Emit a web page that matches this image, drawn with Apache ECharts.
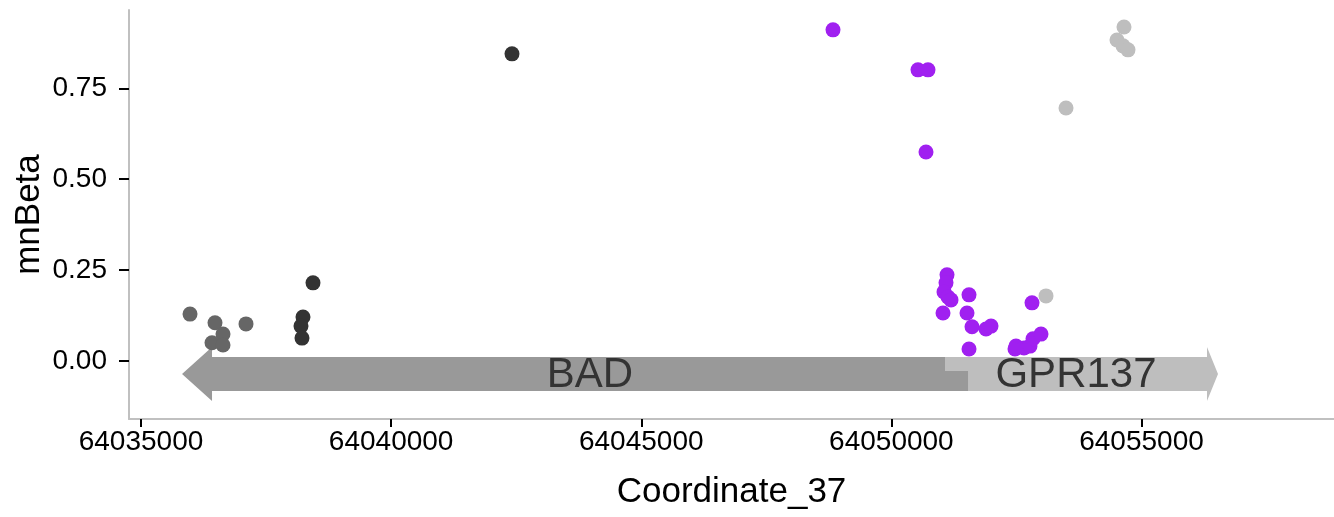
<!DOCTYPE html>
<html>
<head>
<meta charset="utf-8">
<script src="https://cdn.jsdelivr.net/npm/echarts@6/dist/echarts.min.js"></script>
<style>
html,body{margin:0;padding:0;background:#fff;}
#chart{width:1334px;height:517px;}
</style>
</head>
<body>
<div id="chart"></div>
<script>
// ---- data ----
const xTicks = [64035000, 64040000, 64045000, 64050000, 64055000];
const yTicks = [0, 0.25, 0.5, 0.75];

const group1X = [64035980, 64036479, 64037099, 64036639, 64036419, 64036639];
const group1Y = [0.129, 0.105, 0.102, 0.074, 0.050, 0.044];

const group2X = [64038438, 64038238, 64038198, 64038218, 64042416];
const group2Y = [0.215, 0.121, 0.096, 0.063, 0.845];

const purpleX = [64048833, 64050532, 64050732, 64050692, 64051112, 64051092, 64051052, 64051132, 64051192,
  64051552, 64051032, 64051512, 64051612, 64051892, 64051992, 64051552, 64052811, 64052471, 64052491,
  64052651, 64052771, 64052831, 64052991];
const purpleY = [0.911, 0.801, 0.801, 0.575, 0.237, 0.215, 0.190, 0.176, 0.168,
  0.182, 0.132, 0.132, 0.094, 0.088, 0.096, 0.033, 0.160, 0.033, 0.041,
  0.036, 0.041, 0.061, 0.074];

const lightX = [64054650, 64054510, 64054630, 64054730, 64053491, 64053091];
const lightY = [0.919, 0.883, 0.867, 0.856, 0.696, 0.179];

// genes: drawn from 'from' (transcription start) to 'to' (arrow tip)
const geneNames = ['GPR137', 'BAD'];
const geneFrom = [64051072, 64051532];
const geneTo = [64056529, 64035820];
const geneY = -0.036;

// ---- styles ----
const geneColors = {GPR137: '#bebebe', BAD: '#999999'};
const headLen = {GPR137: 11, BAD: 30};
const bodyHalf = 17, headHalf = 27, splitOff = -3;

function zip(xs, ys) { return xs.map((x, i) => [x, ys[i]]); }

const chart = echarts.init(document.getElementById('chart'), null, {renderer: 'canvas'});
const font = 'Liberation Sans, Arial, Helvetica, sans-serif';

const geneData = geneNames.map((n, i) => [geneFrom[i], geneTo[i], geneY, i]);

function renderGene(params, api) {
  const i = api.value(3);
  const name = geneNames[i];
  const p0 = api.coord([api.value(0), api.value(2)]);
  const p1 = api.coord([api.value(1), api.value(2)]);
  const cy = p0[1];
  const x0 = p0[0], xt = p1[0];
  const dir = xt > x0 ? 1 : -1;
  const hl = headLen[name];
  const xb = xt - dir * hl;
  let pts;
  if (name === 'BAD') {
    // top half stops where GPR137 begins
    const xo = api.coord([geneFrom[0], api.value(2)])[0];
    pts = [[xt, cy], [xb, cy - headHalf], [xb, cy - bodyHalf], [xo, cy - bodyHalf], [xo, cy + splitOff],
      [x0, cy + splitOff], [x0, cy + bodyHalf], [xb, cy + bodyHalf], [xb, cy + headHalf]];
  } else {
    pts = [[x0, cy - bodyHalf], [xb, cy - bodyHalf], [xb, cy - headHalf], [xt, cy], [xb, cy + headHalf],
      [xb, cy + bodyHalf], [x0, cy + bodyHalf]];
  }
  const cx = (x0 + xb) / 2;
  return {
    type: 'group',
    children: [
      {type: 'polygon', shape: {points: pts}, style: {fill: geneColors[name]}},
      {type: 'text', x: cx, y: cy + 1, style: {text: name, fill: '#333333', font: '42px ' + font,
        align: 'center', verticalAlign: 'middle'}}
    ]
  };
}

const option = {
  animation: false,
  backgroundColor: '#ffffff',
  grid: {left: 129, top: 10, right: 0, bottom: 98, containLabel: false},
  xAxis: {
    type: 'value', min: 64034760, max: 64058848,
    name: 'Coordinate_37', nameLocation: 'middle', nameGap: 56, nameMoveOverlap: false,
    nameTextStyle: {fontFamily: font, fontSize: 35, color: '#000'},
    axisLine: {show: true, onZero: false, lineStyle: {color: '#c0c0c0', width: 2}},
    axisTick: {show: true, customValues: xTicks, length: 8, lineStyle: {color: '#000', width: 2}},
    axisLabel: {customValues: xTicks, fontFamily: font, fontSize: 28, color: '#000', margin: 9,
      formatter: v => String(v)},
    splitLine: {show: false}
  },
  yAxis: {
    type: 'value', min: -0.1596, max: 0.9656,
    name: 'mnBeta', nameLocation: 'middle', nameGap: 82, nameRotate: 90, nameMoveOverlap: false,
    nameTextStyle: {fontFamily: font, fontSize: 35, color: '#000'},
    axisLine: {show: true, onZero: false, lineStyle: {color: '#c0c0c0', width: 2}},
    axisTick: {show: true, customValues: yTicks, length: 10, lineStyle: {color: '#000', width: 2}},
    axisLabel: {customValues: yTicks, fontFamily: font, fontSize: 28, color: '#000', margin: 22,
      formatter: v => v.toFixed(2)},
    splitLine: {show: false}
  },
  series: [
    {type: 'custom', renderItem: renderGene, data: geneData, encode: {x: [0, 1], y: 2}, z: 1, silent: true},
    {type: 'scatter', data: zip(group1X, group1Y), symbolSize: 15, itemStyle: {color: '#666666', opacity: 1}, z: 3},
    {type: 'scatter', data: zip(group2X, group2Y), symbolSize: 15, itemStyle: {color: '#333333', opacity: 1}, z: 3},
    {type: 'scatter', data: zip(purpleX, purpleY), symbolSize: 15, itemStyle: {color: '#A020F0', opacity: 1}, z: 3},
    {type: 'scatter', data: zip(lightX, lightY), symbolSize: 15, itemStyle: {color: '#BEBEBE', opacity: 1}, z: 3}
  ]
};
chart.setOption(option);
</script>
</body>
</html>
